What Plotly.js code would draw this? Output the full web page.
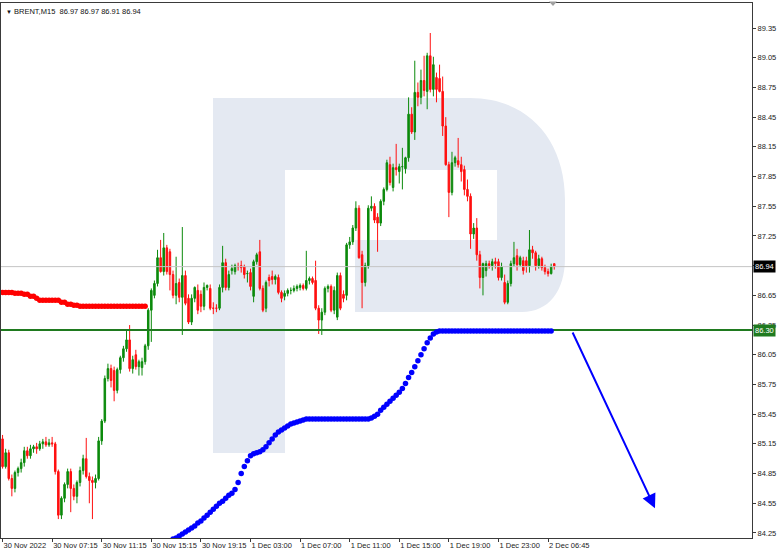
<!DOCTYPE html>
<html><head><meta charset="utf-8">
<script src="https://cdn.plot.ly/plotly-3.0.1.min.js"></script>
<style>html,body{margin:0;padding:0;background:#fff}#chart{width:782px;height:553px}</style>
</head><body><div id="chart"></div>
<script>
// ---- data (M15 bars, index 0 = 30 Nov 2022 00:00) ----
const openP = [85.20,84.92,85.06,84.80,84.70,84.86,84.90,84.96,85.08,85.03,85.10,85.12,85.10,85.15,85.17,85.14,85.16,85.15,84.87,84.43,
84.60,84.74,84.87,84.70,84.62,84.76,84.88,85.00,84.82,84.78,84.76,84.80,85.18,85.38,85.81,85.91,85.89,85.69,85.90,86.02,
86.11,86.20,85.91,86.05,85.93,85.92,85.98,86.14,86.50,86.65,86.77,87.03,86.89,87.13,87.09,86.86,86.65,86.78,86.63,86.85,
86.62,86.38,86.62,86.70,86.66,86.54,86.73,86.72,86.52,86.52,86.52,86.73,86.98,86.73,86.90,86.89,86.94,86.95,86.94,86.87,
86.88,86.64,86.99,87.09,86.72,86.52,86.83,86.84,86.81,86.83,86.68,86.64,86.67,86.70,86.70,86.72,86.73,86.75,86.72,86.80,
86.82,86.80,86.52,86.40,86.48,86.72,86.74,86.50,86.43,86.85,86.66,86.65,87.16,87.19,87.33,87.53,87.06,86.78,86.95,87.53,
87.55,87.44,87.38,87.60,87.72,87.97,87.74,87.94,87.90,87.95,87.93,88.04,88.48,88.30,88.70,88.65,88.82,88.71,89.07,88.73,
88.85,88.84,88.71,88.36,87.97,87.69,87.99,88.01,87.97,87.92,87.72,87.65,87.27,87.33,87.06,86.83,86.90,86.97,86.95,86.99,
86.99,86.83,86.78,86.58,86.77,86.97,87.05,86.96,87.00,87.00,86.95,87.11,87.08,86.95,87.02,86.93,86.89,86.87,86.97];
const highP = [85.24,85.10,85.09,84.84,84.88,84.92,85.00,85.12,85.12,85.14,85.14,85.16,85.18,85.20,85.22,85.20,85.22,85.17,84.89,84.62,
84.76,84.90,84.90,84.74,84.78,84.92,85.04,85.21,84.86,84.82,84.84,85.22,85.40,85.84,85.96,85.95,85.93,85.92,86.04,86.14,
86.30,86.35,86.04,86.10,86.00,86.02,86.16,86.52,86.72,86.80,87.11,87.21,87.28,87.16,87.12,86.90,87.04,86.82,87.34,86.90,
86.66,86.66,86.74,86.76,86.70,86.78,86.76,86.76,86.58,86.56,86.76,87.15,87.02,86.90,86.96,86.97,86.98,87.00,86.96,86.90,
86.92,87.01,87.08,87.21,86.75,86.80,86.86,86.90,86.86,86.86,86.70,86.70,86.72,86.73,86.75,86.76,86.77,86.77,87.10,86.84,
86.84,87.00,86.55,86.52,86.74,86.76,86.76,86.74,86.88,86.88,86.70,87.18,87.24,87.36,87.60,87.56,87.10,86.98,87.56,87.65,
87.58,87.48,87.62,87.74,88.02,88.05,87.98,88.18,87.98,88.14,88.05,88.65,88.55,89.02,88.80,88.93,89.07,89.10,89.30,89.06,
88.90,88.98,88.86,88.45,88.00,88.10,88.06,88.24,88.05,87.96,87.82,87.68,87.38,87.43,87.10,86.98,87.00,87.00,87.02,87.03,
87.02,86.98,86.86,86.80,87.00,87.19,87.12,87.05,87.04,87.04,87.31,87.15,87.10,87.06,87.04,86.96,86.92,86.97,86.97];
const lowP = [84.90,84.90,84.78,84.62,84.66,84.82,84.86,84.92,85.00,85.00,85.06,85.05,85.08,85.10,85.12,85.12,85.12,84.84,84.39,84.39,
84.56,84.70,84.46,84.58,84.55,84.72,84.84,84.80,84.55,84.39,84.70,84.78,85.14,85.36,85.78,85.72,85.58,85.66,85.86,85.98,
86.08,85.88,85.86,85.90,85.84,85.84,85.95,86.10,86.18,86.62,86.74,86.88,86.85,86.86,86.70,86.62,86.56,86.58,86.25,86.55,
86.36,86.35,86.58,86.46,86.48,86.50,86.70,86.50,86.46,86.48,86.50,86.68,86.70,86.70,86.86,86.86,86.90,86.88,86.82,86.78,
86.70,86.58,86.96,86.70,86.48,86.48,86.74,86.76,86.76,86.66,86.58,86.60,86.64,86.66,86.68,86.69,86.70,86.70,86.70,86.76,
86.76,86.50,86.26,86.25,86.45,86.68,86.48,86.46,86.40,86.50,86.58,86.60,87.12,87.16,87.30,87.02,86.52,86.74,86.92,87.50,
87.38,87.09,87.35,87.56,87.70,87.76,87.70,87.86,87.78,87.72,87.88,88.00,88.28,88.22,88.56,88.58,88.66,88.53,88.70,88.66,
88.60,88.70,88.26,87.96,87.44,87.66,87.95,87.94,87.80,87.66,87.60,87.12,87.22,87.00,86.72,86.65,86.84,86.92,86.90,86.92,
86.80,86.80,86.56,86.56,86.74,86.94,86.90,86.94,86.86,86.88,86.88,87.02,86.90,86.92,86.90,86.86,86.84,86.86,86.91];
const closeP = [84.92,85.06,84.80,84.70,84.86,84.90,84.96,85.08,85.03,85.10,85.12,85.10,85.15,85.17,85.14,85.16,85.15,84.87,84.43,84.60,
84.74,84.87,84.70,84.62,84.76,84.88,85.00,84.82,84.78,84.76,84.80,85.18,85.38,85.81,85.91,85.79,85.69,85.90,86.02,86.11,
86.20,85.91,86.00,85.93,85.98,85.98,86.14,86.50,86.70,86.77,87.03,86.89,87.13,86.89,86.86,86.65,86.77,86.63,86.85,86.57,
86.38,86.62,86.73,86.50,86.54,86.73,86.75,86.52,86.52,86.52,86.73,86.98,86.73,86.86,86.92,86.95,86.94,86.93,86.86,86.87,
86.74,86.99,87.06,86.72,86.50,86.78,86.80,86.81,86.84,86.68,86.62,86.67,86.70,86.70,86.72,86.74,86.75,86.72,86.80,86.82,
86.78,86.52,86.40,86.48,86.72,86.74,86.50,86.70,86.85,86.52,86.62,87.16,87.19,87.33,87.53,87.03,86.78,86.95,87.53,87.55,
87.41,87.38,87.60,87.72,87.99,87.79,87.94,87.92,87.95,87.95,88.04,88.48,88.30,88.70,88.65,88.82,88.72,89.07,88.73,88.98,
88.73,88.71,88.36,87.97,87.69,87.99,88.04,87.97,87.90,87.72,87.65,87.27,87.33,87.06,86.83,86.97,86.97,86.95,86.99,86.97,
86.83,86.94,86.58,86.77,86.97,87.03,86.96,87.03,86.90,86.95,87.11,87.08,86.95,87.02,86.93,86.89,86.87,86.94,86.94];

// red dotted indicator (bars 0..47)
const redStart = 0;
const redDots = [86.68,86.68,86.68,86.68,86.67,86.67,86.67,86.66,86.66,86.64,86.64,86.62,86.60,86.60,86.60,86.60,86.60,86.60,86.60,86.58,
86.58,86.56,86.56,86.55,86.55,86.54,86.54,86.54,86.54,86.54,86.54,86.54,86.54,86.54,86.54,86.54,86.54,86.54,86.54,86.54,
86.54,86.54,86.54,86.54,86.54,86.54,86.54];

// blue dotted indicator (bars 55..178)
const blueStart = 55;
const blueDots = [84.19,84.20,84.22,84.24,84.26,84.28,84.30,84.32,84.35,84.37,
84.40,84.43,84.46,84.49,84.52,84.55,84.57,84.60,84.63,84.65,
84.69,84.76,84.85,84.92,84.98,85.03,85.05,85.06,85.07,85.09,
85.12,85.16,85.20,85.24,85.27,85.29,85.31,85.33,85.35,85.36,
85.37,85.38,85.39,
85.40,85.40,85.40,85.40,85.40,85.40,85.40,85.40,85.40,85.40,85.40,85.40,85.40,85.40,85.40,85.40,85.40,85.40,85.40,85.40,85.40,
85.41,85.43,85.45,85.49,85.52,85.55,85.58,85.61,85.64,85.67,
85.71,85.76,85.82,85.87,85.93,85.99,86.05,86.11,86.17,86.22,86.26,
86.28,
86.29,86.29,86.29,86.29,86.29,86.29,86.29,86.29,86.29,86.29,86.29,86.29,86.29,86.29,86.29,86.29,86.29,86.29,86.29,
86.29,86.29,86.29,86.29,86.29,86.29,86.29,86.29,86.29,86.29,86.29,86.29,86.29,86.29,86.29,86.29,86.29,86.29];

const xTickIdx = [0,16,32,48,64,80,96,112,128,144,160,176];
const xTickText = ["30 Nov 2022","30 Nov 07:15","30 Nov 11:15","30 Nov 15:15","30 Nov 19:15","1 Dec 03:00","1 Dec 07:00","1 Dec 11:00","1 Dec 15:00","1 Dec 19:00","1 Dec 23:00","2 Dec 06:45"];
const yTickVals = [84.25,84.55,84.85,85.15,85.45,85.75,86.05,86.35,86.65,86.95,87.25,87.55,87.85,88.15,88.45,88.75,89.05,89.35];
const yTickText = ["84.25","84.55","84.85","85.15","85.45","85.75","86.05","86.35","86.65","","87.25","87.55","87.85","88.15","88.45","88.75","89.05","89.35"];

const lastPrice = 86.94;
const levelPrice = 86.30;
const headerText = "BRENT,M15  86.97 86.97 86.91 86.94";
const arrowFrom = [183.7, 86.29];
const arrowTo = [210.5, 84.50];

// ---- drawing ----
const xRange = [-0.5, 241.8];
const yRange = [84.199, 89.603];
const PL = 1, PR = 752, PT = 3, PB = 538;
function px(x){ return ((x-PL)/(PR-PL)).toFixed(5); }
function py(y){ return ((PB-y)/(PB-PT)).toFixed(5); }
function P(x,y){ return px(x)+','+py(y); }

const idx = closeP.map((_, i) => i);
const redX = redDots.map((_, i) => redStart + i);
const blueX = blueDots.map((_, i) => blueStart + i);

const font = 'Liberation Sans, Arial, sans-serif';

const traces = [
  {type:'scatter', mode:'lines', x:xRange, y:[lastPrice,lastPrice], line:{color:'#c4c4c4', width:1}, hoverinfo:'skip', showlegend:false},
  {type:'candlestick', x:idx, open:openP, high:highP, low:lowP, close:closeP,
   increasing:{line:{color:'#0c8a0c', width:1}, fillcolor:'#0c8a0c'},
   decreasing:{line:{color:'#ff1010', width:1}, fillcolor:'#ff1010'},
   whiskerwidth:0, showlegend:false, hoverinfo:'skip'},
  {type:'scatter', mode:'markers', x:redX, y:redDots, marker:{color:'#ff0000', size:5.5}, hoverinfo:'skip', showlegend:false},
  {type:'scatter', mode:'lines', x:xRange, y:[levelPrice,levelPrice], line:{color:'#1f7a1f', width:2}, hoverinfo:'skip', showlegend:false},
  {type:'scatter', mode:'markers', x:blueX, y:blueDots, marker:{color:'#0000ff', size:5.5}, hoverinfo:'skip', showlegend:false}
];

const rPath = 'M'+P(213,98)+' L'+P(470,98)+' C'+P(528,98)+' '+P(565,140)+' '+P(565,200)+
  ' L'+P(565,258)+' C'+P(565,292)+' '+P(548,312)+' '+P(522,312)+
  ' L'+P(355,312)+' L'+P(355,240)+' L'+P(497,240)+' L'+P(497,170)+' L'+P(285,170)+
  ' L'+P(285,453)+' L'+P(213,453)+' Z';

const layout = {
  width:782, height:553,
  margin:{l:PL, r:782-PR, t:PT, b:553-PB, pad:0},
  paper_bgcolor:'#ffffff', plot_bgcolor:'#ffffff',
  showlegend:false,
  xaxis:{range:xRange, type:'linear', showgrid:false, zeroline:false, showline:true, linecolor:'#3a3a3a', linewidth:1, mirror:true,
    ticks:'outside', ticklen:3, tickcolor:'#3a3a3a', tickvals:xTickIdx, ticktext:xTickText,
    tickangle:0, ticklabelposition:'outside right', automargin:false,
    tickfont:{family:font, size:7.5, color:'#222'}, rangeslider:{visible:false}, fixedrange:true},
  yaxis:{range:yRange, side:'right', showgrid:false, zeroline:false, showline:true, linecolor:'#3a3a3a', linewidth:1, mirror:true,
    ticks:'outside', ticklen:3, tickcolor:'#3a3a3a', tickvals:yTickVals, ticktext:yTickText, automargin:false,
    tickfont:{family:font, size:7.5, color:'#222'}, fixedrange:true},
  shapes:[
    {type:'path', xref:'paper', yref:'paper', path:rPath, fillcolor:'#e4e9f2', line:{width:0}, layer:'below'},
    {type:'path', xref:'paper', yref:'paper', path:'M'+P(549,1.5)+' L'+P(557,1.5)+' L'+P(553,6)+' Z', fillcolor:'#a0a0a0', line:{width:0}, layer:'above'}
  ],
  annotations:[
    {xref:'paper', yref:'paper', x:0, y:1, xanchor:'left', yanchor:'top', xshift:3, yshift:-2, showarrow:false,
     text:'<span style="font-size:6px">▼</span> '+headerText, font:{family:font, size:7.5, color:'#111'}},
    {xref:'paper', yref:'y', x:1, y:lastPrice, xanchor:'left', yanchor:'middle', xshift:1, showarrow:false,
     text:lastPrice.toFixed(2), bgcolor:'#000000', borderpad:1, font:{family:font, size:7.5, color:'#ffffff'}},
    {xref:'paper', yref:'y', x:1, y:levelPrice, xanchor:'left', yanchor:'middle', xshift:1, showarrow:false,
     text:levelPrice.toFixed(2), bgcolor:'#1f7a1f', borderpad:1, font:{family:font, size:7.5, color:'#ffffff'}},
    {xref:'x', yref:'y', axref:'x', ayref:'y', x:arrowTo[0], y:arrowTo[1], ax:arrowFrom[0], ay:arrowFrom[1],
     showarrow:true, arrowhead:2, arrowsize:1.4, arrowwidth:2, arrowcolor:'#0000ff', text:'', standoff:0}
  ]
};

Plotly.newPlot('chart', traces, layout, {displayModeBar:false, staticPlot:true});
</script>
</body></html>
